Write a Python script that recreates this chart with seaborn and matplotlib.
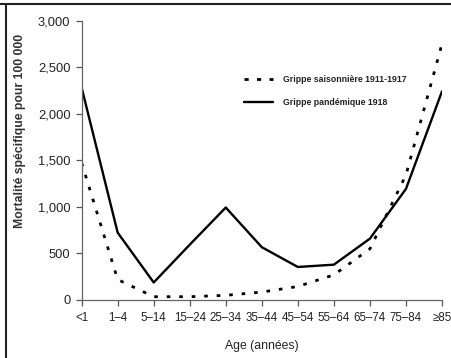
import numpy as np
import pandas as pd
import matplotlib
matplotlib.use("Agg")
import matplotlib.pyplot as plt
from matplotlib.lines import Line2D
import seaborn as sns

sns.set_style("ticks")
plt.rcParams['font.family'] = ['Liberation Sans', 'DejaVu Sans']

age_groups = ['<1', '1–4', '5–14', '15–24', '25–34', '35–44', '45–54', '55–64', '65–74', '75–84', '≥85']
seasonal = [1470, 215, 30, 30, 45, 80, 140, 265, 545, 1340, 2750]
pandemic = [2280, 720, 183, 590, 990, 563, 350, 375, 655, 1190, 2240]

df = pd.DataFrame({'age': age_groups, 'seasonal': seasonal, 'pandemic': pandemic})
df['pos'] = np.arange(len(age_groups))

fig = plt.figure(figsize=(4.51, 3.58), dpi=100)
ax = fig.add_axes([0.181, 0.1634, 0.799, 0.7786])

sns.lineplot(x='pos', y='seasonal', data=df, ax=ax, color='black', linewidth=2.0,
             linestyle=(0, (1.3, 3.2)))
sns.lineplot(x='pos', y='pandemic', data=df, ax=ax, color='black', linewidth=1.7)

ax.set_xlim(0, 10)
ax.set_ylim(0, 3000)
ax.set_xticks(df['pos'])
ax.set_xticklabels(age_groups)
ax.set_yticks([0, 500, 1000, 1500, 2000, 2500, 3000])
ax.set_yticklabels(['0', '500', '1,000', '1,500', '2,000', '2,500', '3,000'])
ax.tick_params(colors='#555555', labelcolor='#222222', length=4, width=0.9)
ax.tick_params(axis='y', labelsize=9.3, pad=4)
ax.tick_params(axis='x', labelsize=8.3, pad=5)
for s in ['top', 'right']:
    ax.spines[s].set_visible(False)
for s in ['left', 'bottom']:
    ax.spines[s].set_color('#666666')
    ax.spines[s].set_linewidth(0.9)

ax.set_xlabel('Age (années)', fontsize=8.8, color='#222222')
ax.xaxis.set_label_coords(0.5, -0.145)
ax.set_ylabel('Mortalité spécifique pour 100 000', fontsize=8.8, color='#333333',
              fontweight='bold')
ax.yaxis.set_label_coords(-0.154, 0.604)

handles = [Line2D([], [], color='black', linewidth=2.0, linestyle=(0, (1.5, 3))),
           Line2D([], [], color='black', linewidth=1.7)]
leg = ax.legend(handles, ['Grippe saisonnière 1911-1917', 'Grippe pandémique 1918'],
                loc='upper left', bbox_to_anchor=(0.429, 0.835), frameon=False,
                prop={'size': 6.3, 'weight': 'bold'}, handlelength=3.3,
                handletextpad=1.2, labelspacing=1.6)
for t in leg.get_texts():
    t.set_color('#222222')

# cadre de l'image (haut et gauche)
fig.add_artist(Line2D([0, 1], [0.988, 0.988], transform=fig.transFigure, color='#222222', linewidth=1.5))
fig.add_artist(Line2D([0.0135, 0.0135], [0, 0.988], transform=fig.transFigure, color='#222222', linewidth=1.5))

fig.savefig('out.png', dpi=100)
plt.close()
